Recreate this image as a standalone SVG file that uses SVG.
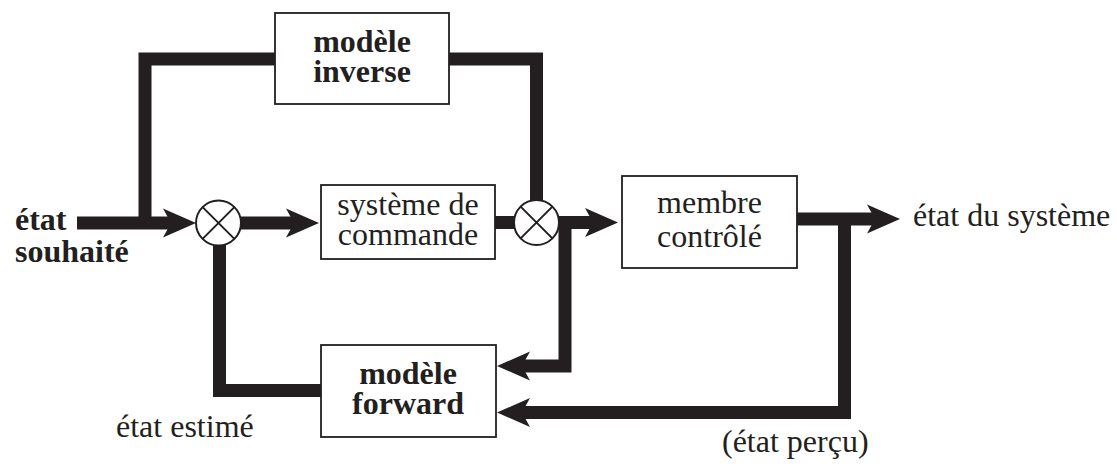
<svg xmlns="http://www.w3.org/2000/svg" xmlns:xlink="http://www.w3.org/1999/xlink" width="1117" height="466" viewBox="0 0 1117 466">
<style>
.box{fill:#fff;stroke:#231f20;stroke-width:1.8}
.sum{fill:#fff;stroke:#231f20;stroke-width:2}
.x{stroke:#231f20;stroke-width:2}
.wire{fill:none;stroke:#231f20;stroke-width:13;stroke-linejoin:miter;stroke-linecap:butt}
.ah{fill:#231f20}
text{font-family:"Liberation Serif","Times New Roman",serif;font-size:32px;fill:#231f20}
.b{font-weight:bold}
.c{text-anchor:middle}
</style>
<defs>
<path id="arr" d="M0,0 L-33,-14.5 L-25,0 L-33,14.5 Z"/>
</defs>
<g id="connectors">
<path class="wire" d="M77,223 H172"/>
<path class="wire" d="M145,229 V59 H276"/>
<path class="wire" d="M448,59 H536.5 V200"/>
<path class="wire" d="M241,223 H296"/>
<path class="wire" d="M494,222.5 H514"/>
<path class="wire" d="M558,222.5 H596"/>
<path class="wire" d="M565,216 V366 H522"/>
<path class="wire" d="M796,219 H878"/>
<path class="wire" d="M844.5,213 V412.5 H522"/>
<path class="wire" d="M219.5,245 V390.5 H322"/>
<use class="ah" xlink:href="#arr" transform="translate(196,223)"/>
<use class="ah" xlink:href="#arr" transform="translate(319,223)"/>
<use class="ah" xlink:href="#arr" transform="translate(618,222.5)"/>
<use class="ah" xlink:href="#arr" transform="translate(900,219)"/>
<use class="ah" xlink:href="#arr" transform="translate(497,366) rotate(180)"/>
<use class="ah" xlink:href="#arr" transform="translate(497,412.5) rotate(180)"/>
</g>
<g id="etat-souhaite">
<text class="b" x="15" y="230">état</text>
<text class="b" x="15" y="262">souhaité</text>
</g>
<g id="comparateur1">
<circle class="sum" cx="218.5" cy="223" r="22.5"/>
<path class="x" d="M202.6,207.1 L234.4,238.9 M234.4,207.1 L202.6,238.9"/>
</g>
<g id="comparateur2">
<circle class="sum" cx="536.5" cy="222.5" r="22.5"/>
<path class="x" d="M520.6,206.6 L552.4,238.4 M552.4,206.6 L520.6,238.4"/>
</g>
<g id="modele-inverse">
<rect class="box" x="275" y="13" width="174" height="91"/>
<text class="b c" x="362" y="52">modèle</text>
<text class="b c" x="362" y="82">inverse</text>
</g>
<g id="systeme-commande">
<rect class="box" x="321" y="185" width="174" height="74"/>
<text class="c" x="408" y="215">système de</text>
<text class="c" x="408" y="245">commande</text>
</g>
<g id="membre-controle">
<rect class="box" x="622" y="176" width="175" height="92"/>
<text class="c" x="709.5" y="213">membre</text>
<text class="c" x="709.5" y="247">contrôlé</text>
</g>
<g id="modele-forward">
<rect class="box" x="321" y="345" width="175" height="92"/>
<text class="b c" x="408" y="384">modèle</text>
<text class="b c" x="408" y="414">forward</text>
</g>
<g id="etat-systeme">
<text x="913" y="226">état du système</text>
</g>
<g id="etat-estime">
<text x="116" y="437">état estimé</text>
</g>
<g id="etat-percu">
<text x="722" y="452">(état perçu)</text>
</g>
</svg>
